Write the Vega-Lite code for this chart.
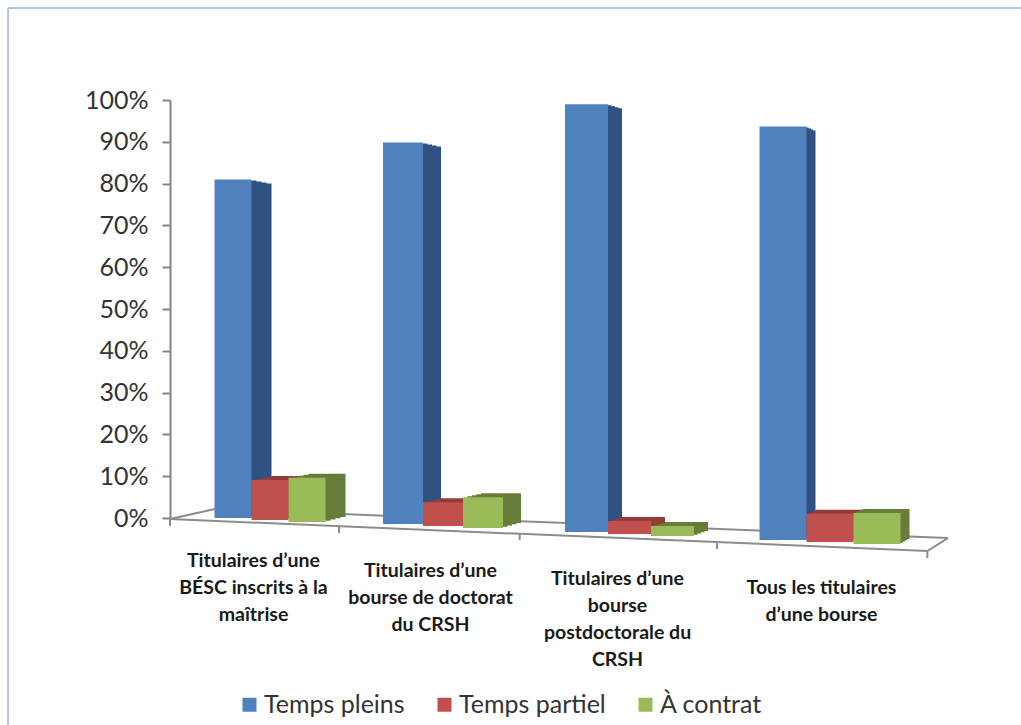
{
"$schema":"https://vega.github.io/schema/vega-lite/v6.json",
"width":748,"height":418,"autosize":"none",
"padding":{"left":170,"top":100,"right":103,"bottom":207},
"background":"white",
"config":{"view":{"stroke":null}},
"params":[
{"name":"cats","value":["Titulaires d’une|BÉSC inscrits à la|maîtrise","Titulaires d’une|bourse de doctorat|du CRSH","Titulaires d’une|bourse|postdoctorale du|CRSH","Tous les titulaires|d’une bourse"]},
{"name":"sers","value":["Temps pleins","Temps partiel","À contrat"]},
{"name":"dec","value":[6.5,-7.5,-8,5.5]},
{"name":"larg","value":[37,40,43,47]},
{"name":"prof","value":[20,18,14,9]},
{"name":"sag","value":[0,6,14,22]},
{"name":"decTexte","value":[-10,-20,-20,-3]},
{"name":"hautTexte","value":[34,44,52,61]}
],
"datasets":{
"emploi":[
{"categorie":"Titulaires d’une|BÉSC inscrits à la|maîtrise","serie":"Temps pleins","valeur":81},
{"categorie":"Titulaires d’une|BÉSC inscrits à la|maîtrise","serie":"Temps partiel","valeur":9.5},
{"categorie":"Titulaires d’une|BÉSC inscrits à la|maîtrise","serie":"À contrat","valeur":10.5},
{"categorie":"Titulaires d’une|bourse de doctorat|du CRSH","serie":"Temps pleins","valeur":90},
{"categorie":"Titulaires d’une|bourse de doctorat|du CRSH","serie":"Temps partiel","valeur":5.6},
{"categorie":"Titulaires d’une|bourse de doctorat|du CRSH","serie":"À contrat","valeur":7.2},
{"categorie":"Titulaires d’une|bourse|postdoctorale du|CRSH","serie":"Temps pleins","valeur":99},
{"categorie":"Titulaires d’une|bourse|postdoctorale du|CRSH","serie":"Temps partiel","valeur":3},
{"categorie":"Titulaires d’une|bourse|postdoctorale du|CRSH","serie":"À contrat","valeur":2.3},
{"categorie":"Tous les titulaires|d’une bourse","serie":"Temps pleins","valeur":94},
{"categorie":"Tous les titulaires|d’une bourse","serie":"Temps partiel","valeur":6.4},
{"categorie":"Tous les titulaires|d’une bourse","serie":"À contrat","valeur":7}
],
"plancher":[
{"x0":0,"y0":-0.24,"x1":4.05,"y1":-7.9},
{"x0":0,"y0":-0.24,"x1":0.24,"y1":2.15},
{"x0":0.24,"y0":2.15,"x1":4.16,"y1":-4.8},
{"x0":4.16,"y0":-4.8,"x1":4.05,"y1":-7.9},
{"x0":0,"y0":-0.24,"x1":0,"y1":-1.9},
{"x0":0.904,"y0":-1.9,"x1":0.904,"y1":-3.6},
{"x0":1.87,"y0":-3.6,"x1":1.87,"y1":-5.3},
{"x0":2.925,"y0":-5.7,"x1":2.925,"y1":-7.4},
{"x0":4.05,"y0":-7.9,"x1":4.05,"y1":-9.6}
],
"cadre":[
{"x0":-0.866,"y0":122,"x1":4.55,"y1":122},
{"x0":-0.866,"y0":122,"x1":-0.866,"y1":-49.5}
]
},
"resolve":{"scale":{"x":"independent"}},
"layer":[
{"data":{"name":"cadre"},
 "mark":{"type":"rule","color":"#a9c4e8","strokeWidth":2},
 "encoding":{
  "x":{"field":"x0","type":"quantitative","axis":null,"scale":{"domain":[0,4],"nice":false,"zero":false}},
  "x2":{"field":"x1"},
  "y":{"field":"y0","type":"quantitative","scale":{"domain":[0,100],"nice":false},
   "axis":{"values":[0,10,20,30,40,50,60,70,80,90,100],"labelExpr":"datum.value+'%'","title":null,"grid":false,
    "domainColor":"#868686","domainWidth":2,"tickColor":"#868686","tickWidth":2,"tickSize":8,"labelPadding":14,
    "labelFont":"Lato","labelFontSize":25,"labelColor":"#333333"}},
  "y2":{"field":"y1"}}},
{"data":{"name":"plancher"},
 "mark":{"type":"rule","color":"#8c8c8c","strokeWidth":2},
 "encoding":{
  "x":{"field":"x0","type":"quantitative","axis":null,"scale":{"domain":[0,4],"nice":false,"zero":false}},
  "x2":{"field":"x1"},
  "y":{"field":"y0","type":"quantitative"},
  "y2":{"field":"y1"}}},
{"data":{"name":"emploi"},
 "encoding":{
  "x":{"field":"categorie","type":"nominal","sort":null,"axis":null,"scale":{"paddingInner":0.358,"paddingOuter":0.179}},
  "y":{"field":"valeur","type":"quantitative","stack":null},
  "y2":{"datum":0}
 },
 "layer":[
 {"mark":{"type":"bar","clip":false,
   "color":{"expr":"datum.serie=='Temps pleins'?'#2f5282':datum.serie=='Temps partiel'?'#953b39':'#677d3a'"},
   "width":{"expr":"larg[indexof(cats,datum.categorie)]"},
   "xOffset":{"expr":"dec[indexof(cats,datum.categorie)]+(indexof(sers,datum.serie)-1)*larg[indexof(cats,datum.categorie)]+prof[indexof(cats,datum.categorie)]"},
   "yOffset":{"expr":"(sag[indexof(cats,datum.categorie)]+2*indexof(sers,datum.serie))*(1-datum.valeur/100)+(datum.serie=='Temps pleins'?4:-4)"},
   "y2Offset":{"expr":"sag[indexof(cats,datum.categorie)]+2*indexof(sers,datum.serie)-5"}}},
 {"mark":{"type":"bar","clip":false,
   "color":{"expr":"datum.serie=='Temps pleins'?'#2f5282':datum.serie=='Temps partiel'?'#953b39':'#677d3a'"},
   "width":{"expr":"larg[indexof(cats,datum.categorie)]"},
   "xOffset":{"expr":"dec[indexof(cats,datum.categorie)]+(indexof(sers,datum.serie)-1)*larg[indexof(cats,datum.categorie)]+prof[indexof(cats,datum.categorie)]*0.75"},
   "yOffset":{"expr":"(sag[indexof(cats,datum.categorie)]+2*indexof(sers,datum.serie))*(1-datum.valeur/100)+(datum.serie=='Temps pleins'?3:-3)"},
   "y2Offset":{"expr":"sag[indexof(cats,datum.categorie)]+2*indexof(sers,datum.serie)-3.75"}}},
 {"mark":{"type":"bar","clip":false,
   "color":{"expr":"datum.serie=='Temps pleins'?'#2f5282':datum.serie=='Temps partiel'?'#953b39':'#677d3a'"},
   "width":{"expr":"larg[indexof(cats,datum.categorie)]"},
   "xOffset":{"expr":"dec[indexof(cats,datum.categorie)]+(indexof(sers,datum.serie)-1)*larg[indexof(cats,datum.categorie)]+prof[indexof(cats,datum.categorie)]*0.5"},
   "yOffset":{"expr":"(sag[indexof(cats,datum.categorie)]+2*indexof(sers,datum.serie))*(1-datum.valeur/100)+(datum.serie=='Temps pleins'?2:-2)"},
   "y2Offset":{"expr":"sag[indexof(cats,datum.categorie)]+2*indexof(sers,datum.serie)-2.5"}}},
 {"mark":{"type":"bar","clip":false,
   "color":{"expr":"datum.serie=='Temps pleins'?'#2f5282':datum.serie=='Temps partiel'?'#953b39':'#677d3a'"},
   "width":{"expr":"larg[indexof(cats,datum.categorie)]"},
   "xOffset":{"expr":"dec[indexof(cats,datum.categorie)]+(indexof(sers,datum.serie)-1)*larg[indexof(cats,datum.categorie)]+prof[indexof(cats,datum.categorie)]*0.25"},
   "yOffset":{"expr":"(sag[indexof(cats,datum.categorie)]+2*indexof(sers,datum.serie))*(1-datum.valeur/100)+(datum.serie=='Temps pleins'?1:-1)"},
   "y2Offset":{"expr":"sag[indexof(cats,datum.categorie)]+2*indexof(sers,datum.serie)-1.25"}}},
 {"mark":{"type":"bar","clip":false,
   "width":{"expr":"larg[indexof(cats,datum.categorie)]"},
   "xOffset":{"expr":"dec[indexof(cats,datum.categorie)]+(indexof(sers,datum.serie)-1)*larg[indexof(cats,datum.categorie)]"},
   "yOffset":{"expr":"(sag[indexof(cats,datum.categorie)]+2*indexof(sers,datum.serie))*(1-datum.valeur/100)"},
   "y2Offset":{"expr":"sag[indexof(cats,datum.categorie)]+2*indexof(sers,datum.serie)"}},
  "encoding":{"color":{"field":"serie","type":"nominal",
    "scale":{"domain":["Temps pleins","Temps partiel","À contrat"],"range":["#4f81bd","#c0504d","#9bbb59"]},
    "legend":{"orient":"none","legendX":67,"legendY":592,"direction":"horizontal","title":null,"symbolType":"square","symbolSize":196,"symbolOpacity":1,"symbolStrokeWidth":0,"labelFont":"Lato","labelFontSize":25,"labelColor":"#333333","columnPadding":27,"labelOffset":2,"symbolOffset":0}}}},
 {"transform":[{"filter":"datum.serie=='Temps pleins'"}],
  "mark":{"type":"text","align":"center","baseline":"top","lineBreak":"|","lineHeight":27,"font":"Lato","fontSize":19.5,"fontWeight":"bold","color":"#1a1a1a",
    "xOffset":{"expr":"decTexte[indexof(cats,datum.categorie)]"},
    "yOffset":{"expr":"hautTexte[indexof(cats,datum.categorie)]"}},
  "encoding":{
    "y":{"datum":0},
    "y2":null,
    "text":{"field":"categorie","type":"nominal"}}}
 ]}
]}
